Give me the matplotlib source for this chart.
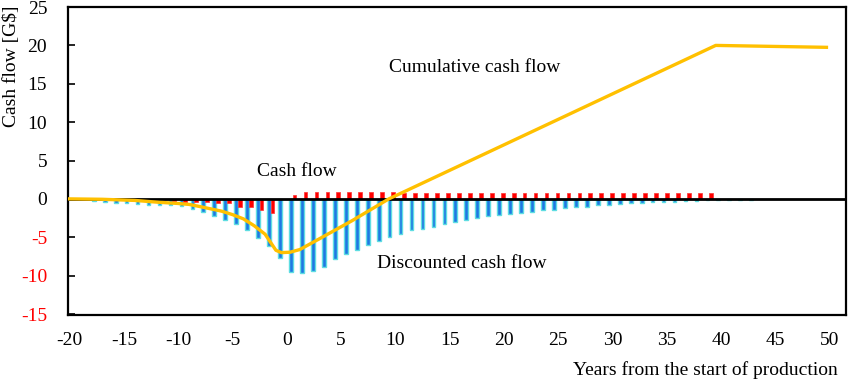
import matplotlib
matplotlib.use("Agg")
import matplotlib.pyplot as plt

# ---- data ----
disc_years = list(range(-18, 43))
disc_values = [-0.3, -0.4, -0.5, -0.6, -0.7, -0.75, -0.75, -0.85, -0.95, -1.3,
               -1.7, -2.2, -2.7, -3.3, -4.0, -5.1, -6.2, -7.75, -9.5, -9.7,
               -9.4, -8.9, -7.8, -7.2, -6.6, -6.0, -5.5, -5.0, -4.6, -4.1,
               -3.9, -3.6, -3.3, -3.0, -2.7, -2.5, -2.2, -2.1, -1.95, -1.8,
               -1.65, -1.5, -1.4, -1.2, -1.1, -1.0, -0.85, -0.75, -0.65, -0.6,
               -0.5, -0.45, -0.4, -0.35, -0.3, -0.25, -0.2, -0.15, -0.12, -0.1,
               -0.08]

cf_years = list(range(-11, 39))
cf_values = [-0.26, -0.35, -0.35, -0.35, -0.6, -0.6, -1.0, -1.0, -1.45, -1.9,
             0.0, 0.55, 0.95, 0.95, 0.95, 0.95, 0.95, 0.95, 0.95, 0.95,
             0.9, 0.78, 0.78, 0.78, 0.78, 0.78, 0.78, 0.78, 0.78, 0.78,
             0.78, 0.78, 0.78, 0.78, 0.78, 0.78, 0.78, 0.78, 0.78, 0.78,
             0.78, 0.78, 0.78, 0.78, 0.78, 0.78, 0.78, 0.78, 0.78, 0.78]

cum_years = [-20, -17, -14, -12, -10, -9, -8, -7, -6, -5, -4, -3, -2, -1, -0.5,
             0.3, 1.2, 3, 6, 9.4, 39.5, 49.7]
cum_values = [0.0, -0.05, -0.2, -0.42, -0.6, -0.72, -1.0, -1.3, -1.6, -2.05,
              -2.6, -3.5, -4.6, -6.7, -7.0, -6.95, -6.6, -5.2, -2.85, 0.0,
              20.0, 19.75]

x_ticks = list(range(-20, 51, 5))
y_ticks = list(range(-15, 26, 5))

plt.rcParams['font.family'] = ['Liberation Serif', 'DejaVu Serif']
FS = 14

fig = plt.figure(figsize=(8.5, 3.81), dpi=100)
fig.patch.set_facecolor('white')
W, H = 850, 381
ax = fig.add_axes([68 / W, 1 - 315 / H, (846 - 68) / W, (315 - 6.5) / H])
ax2 = ax.twiny()

# bars on category-like axis
ax2.set_xlim(-20.5, 50.5)
ax2.bar([y - 0.15 for y in disc_years], disc_values, width=0.34,
        color='#1E78E2', edgecolor='#5EDDE2', linewidth=1.0, zorder=2)
ax2.bar([y + 0.17 for y in cf_years], cf_values, width=0.34,
        color='#FF0000', edgecolor='#FF3030', linewidth=0.5, zorder=3)
ax2.set_xticks([])
for s in ax2.spines.values():
    s.set_visible(False)
ax2.patch.set_visible(False)

# primary axis: line, zero line, ticks
ax.set_zorder(ax2.get_zorder() + 1)
ax.patch.set_visible(False)
ax.set_xlim(-20.15, 51.5)
ax.set_ylim(-15.13, 25.07)
ax.axhline(0, color='black', linewidth=2.0, zorder=3)
ax.plot(cum_years, cum_values, color='#FFC000', linewidth=2.4,
        solid_joinstyle='round', zorder=4)

ax.set_xticks(x_ticks)
ax.set_xticklabels([str(t) for t in x_ticks], fontsize=FS)
ax.set_yticks(y_ticks)
ax.set_yticklabels([str(t) for t in y_ticks], fontsize=FS)
for lab, t in zip(ax.get_yticklabels(), y_ticks):
    lab.set_color('red' if t < 0 else 'black')
ax.tick_params(axis='x', length=0, pad=12)
ax.tick_params(axis='y', direction='in', length=5, width=1.2, pad=15)
for s in ax.spines.values():
    s.set_linewidth(1.6)
    s.set_color('black')

ax.text(17.3, 17.1, 'Cumulative cash flow', fontsize=FS, ha='center', va='center')
ax.text(0.9, 3.6, 'Cash flow', fontsize=FS, ha='center', va='center')
ax.text(16.1, -8.4, 'Discounted cash flow', fontsize=FS, ha='center', va='center')

fig.text(12 / W, 1 - 66 / H, 'Cash flow [G$]', rotation=90, fontsize=FS,
         ha='center', va='center')
fig.text(838 / W, 1 - 370 / H, 'Years from the start of production',
         fontsize=FS, ha='right', va='center')

fig.savefig('out.png', dpi=100, facecolor='white')
